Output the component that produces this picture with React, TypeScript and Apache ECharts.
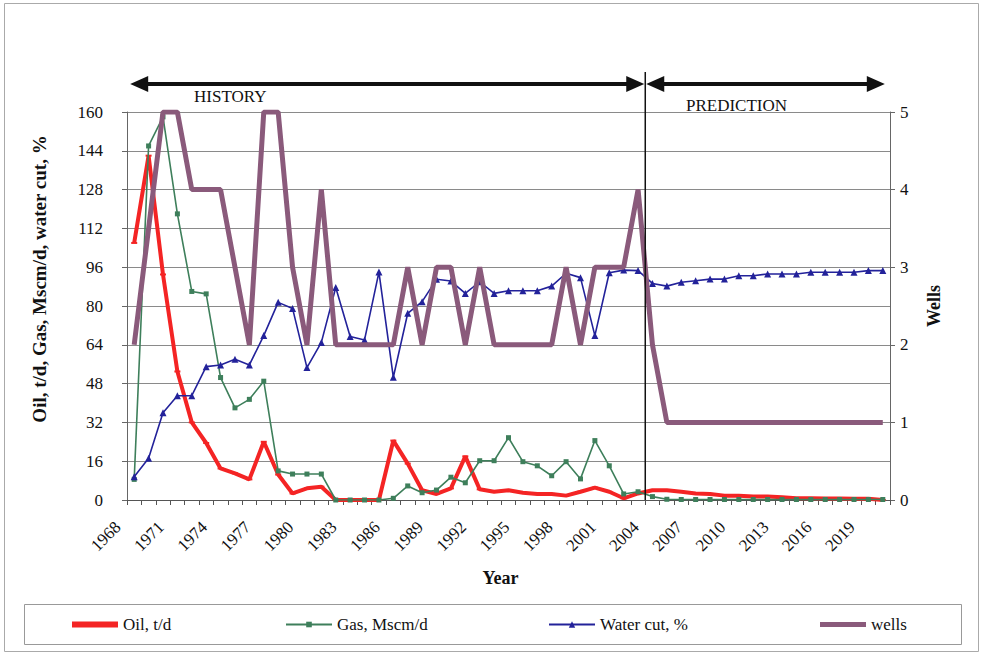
import React, { useEffect, useRef } from "react";
import * as echarts from "echarts";

const years: string[] = [];
for (let y = 1968; y <= 2020; y++) years.push(String(y));

const oil = [106, 142, 93, 53, 32, 23.5, 13, 11, 8.5, 24, 10.5, 2.7, 4.8, 5.5, 0, 0, 0, 0, 24.5, 15, 4, 2.5, 4.8, 18, 4.4, 3.4, 4, 3, 2.5, 2.5, 1.8, 3.4, 5.1, 3.4, 0.7, 2.7, 4, 4, 3.4, 2.7, 2.5, 1.8, 1.8, 1.4, 1.4, 1.1, 0.7, 0.7, 0.6, 0.6, 0.5, 0.5, 0];
const gas = [8.5, 146, 158, 118, 86, 85, 50.5, 38, 41.5, 49, 12, 10.7, 10.7, 10.7, 0, 0, 0, 0, 0.7, 5.8, 3, 4.1, 9.4, 7.1, 16.2, 16.2, 25.7, 15.8, 14.1, 10, 15.8, 8.7, 24.5, 14.1, 2.5, 3.4, 1.4, 0.3, 0.2, 0.2, 0.2, 0.2, 0.2, 0.2, 0.2, 0.2, 0.2, 0.2, 0.2, 0.2, 0.2, 0.2, 0.2];
const waterCut = [9.6, 17.2, 36, 43, 43, 55, 55.7, 58, 55.7, 67.8, 81.5, 79, 54.6, 65, 87.6, 67.4, 66, 94, 50.6, 77, 81.8, 91, 90.3, 85.2, 90, 85.2, 86.3, 86.3, 86.3, 88.2, 93.5, 91.7, 67.8, 93.7, 94.8, 94.6, 89.3, 88.2, 89.8, 90.4, 91.1, 91.1, 92.5, 92.5, 93.2, 93.2, 93.2, 93.9, 93.9, 93.9, 93.9, 94.6, 94.6];
const wells = [2, 3.5, 5, 5, 4, 4, 4, 3, 2, 5, 5, 3, 2, 4, 2, 2, 2, 2, 2, 3, 2, 3, 3, 2, 3, 2, 2, 2, 2, 2, 3, 2, 3, 3, 3, 4, 2, 1, 1, 1, 1, 1, 1, 1, 1, 1, 1, 1, 1, 1, 1, 1, 1];

const leftTicks = { min: 0, max: 160, interval: 16 };
const rightTicks = { min: 0, max: 5, interval: 1 };
const lastHistoryYear = "2003";
const firstPredictionYear = "2004";

const FONT = "Liberation Serif";
const C_OIL = "#f42424";
const C_GAS = "#3e7f5b";
const C_WATER = "#23229a";
const C_WELLS = "#8a5a7b";

export default function App() {
  const ref = useRef<HTMLDivElement>(null);
  useEffect(() => {
    document.body.style.margin = "0";
    const chart = echarts.init(ref.current!, null, { renderer: "svg" });
    const legendCommon = {
      itemWidth: 46,
      padding: 0,
      top: 616,
      textStyle: { fontFamily: FONT, fontSize: 17, color: "#111" },
      selectedMode: false as const,
      itemGap: 6,
    };
    chart.setOption({
      animation: false,
      textStyle: { fontFamily: FONT },
      grid: { left: 127, right: 93, top: 112, bottom: 160 },
      legend: [
        { ...legendCommon, left: 72, itemHeight: 6, icon: "rect", data: ["Oil, t/d"] },
        { ...legendCommon, left: 285, itemHeight: 7, data: ["Gas, Mscm/d"] },
        { ...legendCommon, left: 548, itemHeight: 8, data: ["Water cut, %"] },
        { ...legendCommon, left: 820, itemHeight: 5, icon: "rect", data: ["wells"] },
      ],
      xAxis: {
        type: "category",
        data: years,
        boundaryGap: true,
        name: "Year",
        nameLocation: "middle",
        nameGap: 69,
        nameTextStyle: { fontFamily: FONT, fontSize: 18, fontWeight: "bold", color: "#111", padding: [0, 16, 0, 0] },
        axisLine: { lineStyle: { color: "#555", width: 1 } },
        axisTick: { show: true, interval: 0, length: 5, lineStyle: { color: "#555" } },
        axisLabel: {
          interval: 2,
          rotate: 45,
          fontFamily: FONT,
          fontSize: 17,
          color: "#111",
          margin: 8,
          padding: [0, 23, 22, 0],
        },
        splitLine: { show: false },
      },
      yAxis: [
        {
          type: "value",
          ...leftTicks,
          name: "Oil, t/d, Gas, Mscm/d, water cut, %",
          nameLocation: "middle",
          nameGap: 78,
          nameRotate: 90,
          nameTextStyle: { fontFamily: FONT, fontSize: 19, fontWeight: "bold", color: "#111", padding: [0, 0, 0, 54] },
          axisLine: { show: true, lineStyle: { color: "#666" } },
          axisTick: { show: true, length: 5, lineStyle: { color: "#666" } },
          axisLabel: { fontFamily: FONT, fontSize: 17, color: "#111", margin: 24 },
          splitLine: { show: true, lineStyle: { color: "#8a8a8a", width: 1 } },
        },
        {
          type: "value",
          ...rightTicks,
          position: "right",
          name: "Wells",
          nameLocation: "middle",
          nameGap: 35,
          nameRotate: 90,
          nameTextStyle: { fontFamily: FONT, fontSize: 18, fontWeight: "bold", color: "#111" },
          axisLine: { show: true, lineStyle: { color: "#666" } },
          axisTick: { show: true, length: 5, lineStyle: { color: "#666" } },
          axisLabel: { fontFamily: FONT, fontSize: 17, color: "#111", margin: 10 },
          splitLine: { show: false },
        },
      ],
      series: [
        {
          name: "Oil, t/d",
          type: "line",
          data: oil,
          yAxisIndex: 0,
          symbol: "rect",
          symbolSize: [6, 2],
          lineStyle: { color: C_OIL, width: 4 },
          itemStyle: { color: C_OIL },
          z: 3,
        },
        {
          name: "Gas, Mscm/d",
          type: "line",
          data: gas,
          yAxisIndex: 0,
          symbol: "rect",
          symbolSize: 5,
          lineStyle: { color: C_GAS, width: 1.6 },
          itemStyle: { color: C_GAS },
          z: 4,
        },
        {
          name: "Water cut, %",
          type: "line",
          data: waterCut,
          yAxisIndex: 0,
          symbol: "triangle",
          symbolSize: 7,
          lineStyle: { color: C_WATER, width: 1.6 },
          itemStyle: { color: C_WATER },
          z: 5,
        },
        {
          name: "wells",
          type: "line",
          data: wells,
          yAxisIndex: 1,
          symbol: "none",
          lineStyle: { color: C_WELLS, width: 5 },
          itemStyle: { color: C_WELLS },
          z: 6,
        },
      ],
    });

    const xa = chart.convertToPixel({ xAxisIndex: 0 }, lastHistoryYear) as number;
    const xb = chart.convertToPixel({ xAxisIndex: 0 }, firstPredictionYear) as number;
    const xV = (xa + xb) / 2;
    const yBase = chart.convertToPixel({ yAxisIndex: 0 }, 0) as number;
    const xL = (chart.convertToPixel({ xAxisIndex: 0 }, years[0]) as number) - 4;
    const xR = (chart.convertToPixel({ xAxisIndex: 0 }, years[years.length - 1]) as number) + 2;
    const ay = 84;
    const hl = 18;
    const hw = 8;
    const black = "#111";
    chart.setOption({
      graphic: [
        { type: "rect", shape: { x: 4.5, y: 3.5, width: 974, height: 648 }, style: { fill: "none", stroke: "#aaa", lineWidth: 1 }, silent: true },
        { type: "rect", shape: { x: 24.5, y: 604.5, width: 937, height: 40 }, style: { fill: "none", stroke: "#999", lineWidth: 1 }, silent: true },
        { type: "line", shape: { x1: xV, y1: 72, x2: xV, y2: yBase }, style: { stroke: black, lineWidth: 1.5 }, z: 100 },
        { type: "line", shape: { x1: xL + hl - 2, y1: ay, x2: xV - hl + 2, y2: ay }, style: { stroke: black, lineWidth: 4 }, z: 100 },
        { type: "line", shape: { x1: xV + hl - 2, y1: ay, x2: xR - hl + 2, y2: ay }, style: { stroke: black, lineWidth: 4 }, z: 100 },
        { type: "polygon", shape: { points: [[xL, ay], [xL + hl, ay - hw], [xL + hl, ay + hw]] }, style: { fill: black }, z: 100 },
        { type: "polygon", shape: { points: [[xV - 1, ay], [xV - 1 - hl, ay - hw], [xV - 1 - hl, ay + hw]] }, style: { fill: black }, z: 100 },
        { type: "polygon", shape: { points: [[xV + 1, ay], [xV + 1 + hl, ay - hw], [xV + 1 + hl, ay + hw]] }, style: { fill: black }, z: 100 },
        { type: "polygon", shape: { points: [[xR, ay], [xR - hl, ay - hw], [xR - hl, ay + hw]] }, style: { fill: black }, z: 100 },
        { type: "text", x: 194, y: 96, style: { text: "HISTORY", fontFamily: FONT, fontSize: 17, fill: "#111", verticalAlign: "middle" }, z: 100 },
        { type: "text", x: 686, y: 105, style: { text: "PREDICTION", fontFamily: FONT, fontSize: 17, fill: "#111", verticalAlign: "middle" }, z: 100 },
      ],
    });

    return () => chart.dispose();
  }, []);
  return <div ref={ref} style={{ width: 983, height: 660 }} />;
}
